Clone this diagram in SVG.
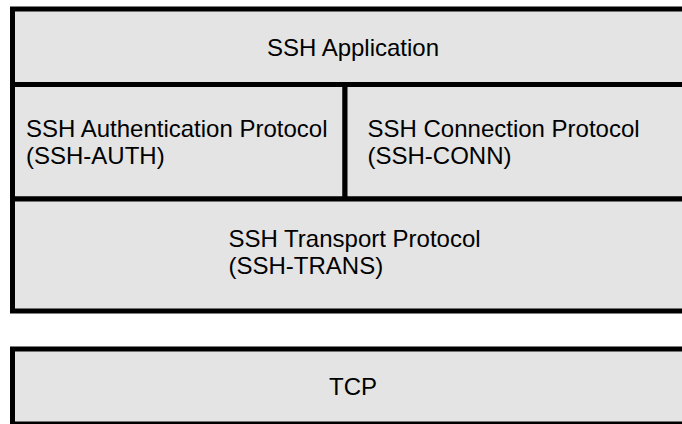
<svg xmlns="http://www.w3.org/2000/svg" width="682" height="424" viewBox="0 0 682 424">
  <style>
    .layer { fill: #e4e4e4; stroke: #000; stroke-width: 5; }
    .label { font-family: "Liberation Sans", Arial, sans-serif; font-size: 24px; fill: #000; }
    .mid { text-anchor: middle; }
  </style>
  <rect width="682" height="424" fill="#fff"/>

  <!-- SSH protocol stack -->
  <g id="ssh-application">
    <rect class="layer" x="12.5" y="9" width="700" height="75.5"/>
    <text class="label mid" x="353" y="55.5">SSH Application</text>
  </g>
  <g id="ssh-auth">
    <rect class="layer" x="12.5" y="84.5" width="332.5" height="114.5"/>
    <text class="label" x="26" y="137">SSH Authentication Protocol</text>
    <text class="label" x="26" y="164">(SSH-AUTH)</text>
  </g>
  <g id="ssh-conn">
    <rect class="layer" x="345" y="84.5" width="367.5" height="114.5"/>
    <text class="label" x="367.5" y="137">SSH Connection Protocol</text>
    <text class="label" x="367.5" y="164">(SSH-CONN)</text>
  </g>
  <g id="ssh-trans">
    <rect class="layer" x="12.5" y="199" width="700" height="112"/>
    <text class="label" x="228.5" y="247">SSH Transport Protocol</text>
    <text class="label" x="228.5" y="273.5">(SSH-TRANS)</text>
  </g>

  <!-- Underlying transport -->
  <g id="tcp">
    <rect class="layer" x="12.5" y="349" width="700" height="75"/>
    <text class="label mid" x="353" y="395">TCP</text>
  </g>
</svg>
